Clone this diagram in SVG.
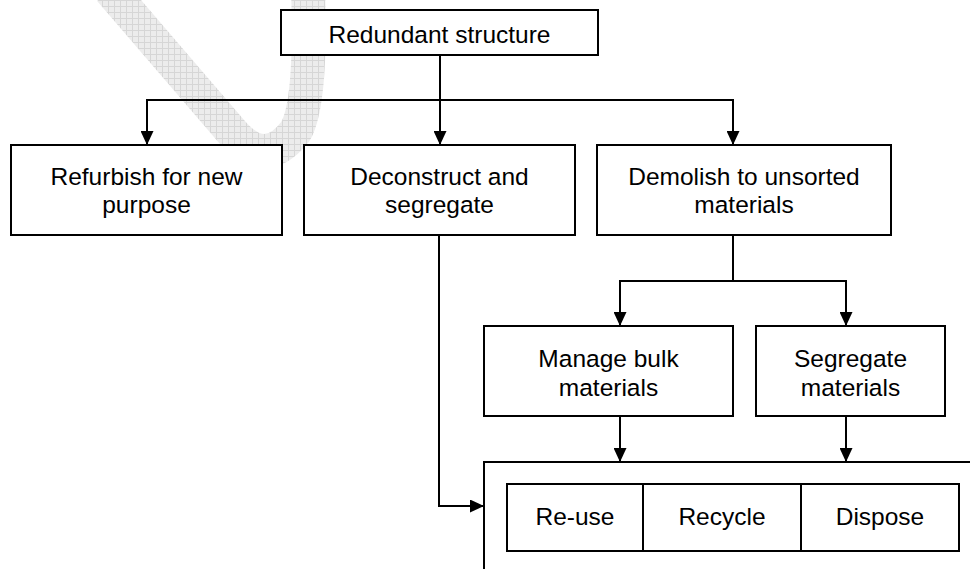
<svg xmlns="http://www.w3.org/2000/svg" width="970" height="569" viewBox="0 0 970 569">
<defs>
<pattern id="chk" width="6" height="6" patternUnits="userSpaceOnUse">
<rect width="6" height="6" fill="#ececec"/>
<path d="M0 0.5H6M0.5 0V6" stroke="#d6d6d6" stroke-width="1"/>
</pattern>
<marker id="arr" viewBox="0 0 14 13" refX="14" refY="6.5" markerWidth="14" markerHeight="13" markerUnits="userSpaceOnUse" orient="auto">
<path d="M0 0L14 6.5L0 13Z" fill="#000"/>
</marker>
</defs>
<style>
.box{fill:#fff;stroke:#000;stroke-width:2}
.ln{fill:none;stroke:#000;stroke-width:2}
text{font-family:"Liberation Sans",Arial,sans-serif;font-size:24.5px;fill:#000;text-anchor:middle}
</style>
<rect width="970" height="569" fill="#fff"/>
<path id="watermark" d="M110 -10 L232 132 Q265 170 295 132 Q312 105 308 -10" fill="none" stroke="url(#chk)" stroke-width="34"/>
<g id="connectors">
<path class="ln" d="M440 55V145" marker-end="url(#arr)"/>
<path class="ln" d="M147 145V100H733V145" marker-end="url(#arr)"/>
<path class="ln" d="M147 100V145" marker-end="url(#arr)"/>
<path class="ln" d="M733 235V281H620V326" marker-end="url(#arr)"/>
<path class="ln" d="M733 281H846V326" marker-end="url(#arr)"/>
<path class="ln" d="M620 416V462" marker-end="url(#arr)"/>
<path class="ln" d="M846 416V462" marker-end="url(#arr)"/>
<path class="ln" d="M439 235V506H484" marker-end="url(#arr)"/>
</g>
<g id="n-redundant"><rect class="box" x="281" y="10" width="317" height="45"/><text x="439.5" y="43">Redundant structure</text></g>
<g id="n-refurbish"><rect class="box" x="11" y="145" width="271" height="90"/><text x="146.5" y="185">Refurbish for new</text><text x="146.5" y="213">purpose</text></g>
<g id="n-deconstruct"><rect class="box" x="304" y="145" width="271" height="90"/><text x="439.5" y="185">Deconstruct and</text><text x="439.5" y="213">segregate</text></g>
<g id="n-demolish"><rect class="box" x="597" y="145" width="294" height="90"/><text x="744" y="185">Demolish to unsorted</text><text x="744" y="213">materials</text></g>
<g id="n-manage"><rect class="box" x="484" y="326" width="249" height="90"/><text x="608.5" y="367">Manage bulk</text><text x="608.5" y="396">materials</text></g>
<g id="n-segregate"><rect class="box" x="756" y="326" width="189" height="90"/><text x="850.5" y="367">Segregate</text><text x="850.5" y="396">materials</text></g>
<g id="n-outcomes">
<rect class="box" x="484" y="462" width="500" height="120"/>
<rect class="box" x="507" y="484" width="136" height="67"/>
<rect class="box" x="643" y="484" width="158" height="67"/>
<rect class="box" x="801" y="484" width="158" height="67"/>
<text x="575" y="525">Re-use</text>
<text x="722" y="525">Recycle</text>
<text x="880" y="525">Dispose</text>
</g>
</svg>
